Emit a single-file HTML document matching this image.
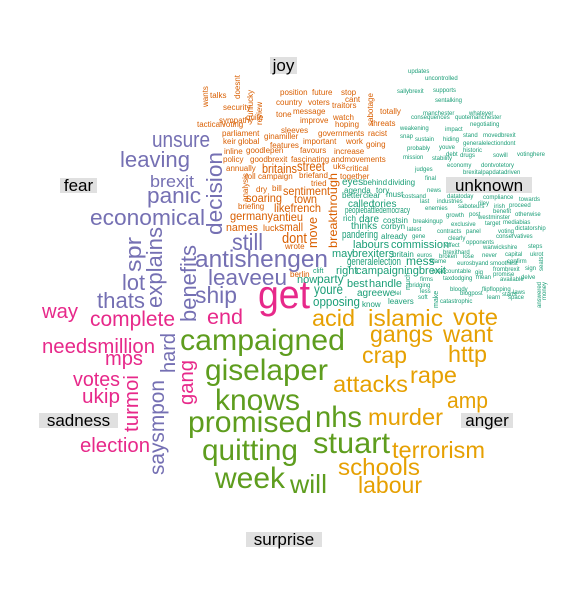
<!DOCTYPE html>
<html><head><meta charset="utf-8"><style>
html,body{margin:0;padding:0;background:#fff;}
svg{display:block;font-family:"Liberation Sans",Arial,sans-serif;}
</style></head><body>
<svg id="cloud" width="568" height="606" viewBox="0 0 568 606" xmlns="http://www.w3.org/2000/svg">
<g id="labels">
<rect x="270" y="57" width="27" height="17" fill="#e0e0e0"/><text x="283.5" y="71" font-size="17" text-anchor="middle">joy</text>
<rect x="60" y="178" width="37" height="15" fill="#e0e0e0"/><text x="78.5" y="191" font-size="17" text-anchor="middle">fear</text>
<rect x="446" y="177" width="86" height="16" fill="#e0e0e0"/><text x="489" y="191" font-size="17" text-anchor="middle">unknown</text>
<rect x="39" y="413" width="79" height="15" fill="#e0e0e0"/><text x="78.5" y="426" font-size="17" text-anchor="middle">sadness</text>
<rect x="461" y="413" width="52" height="15" fill="#e0e0e0"/><text x="487" y="426" font-size="17" text-anchor="middle">anger</text>
<rect x="246" y="532" width="76" height="15" fill="#e0e0e0"/><text x="284" y="545" font-size="17" text-anchor="middle">surprise</text>
</g>
<g id="words"></g>
</svg>
<script>
const J="#d95f02",F="#7570b3",U="#1b9e77",S="#e7298a",A="#e6a002",P="#5e9d1e";
// [word, x, y, fontSize, colour, rotated, width]
const words=[
["get",258,308,40,S,0,52],["campaigned",180,350,30,P,0,165],["gisela",205,380,30,P,0,78],["per",283,380,30,P,0,45],
["knows",215,410,30,P,0,85],["promised",188,432,30,P,0,124],["nhs",315,427,30,P,0,47],["stuart",313,453,30,P,0,77],
["quitting",202,460,30,P,0,96],["week",215,488,30,P,0,70],["will",290,493,26,P,0,37],
["unsure",152,147,22,F,0,58],["leaving",120,167,22,F,0,70],["brexit",150,187,17,F,0,44],["panic",147,203,22,F,0,54],
["economical",90,225,22,F,0,115],["lot",122,290,22,F,0,23],["thats",97,308,22,F,0,48],["still",232,250,23,F,0,31],
["antishengen",195,267,24,F,0,133],["leaveeu",208,285,22,F,0,79],["ship",195,303,23,F,0,42],
["decision",222,235,22,F,1,83],["spr",141,272,22,F,1,35],["explains",162,308,22,F,1,81],["benefits",196,322,22,F,1,77],
["hard",175,373,20,F,1,40],["gang",193,405,20,S,1,45],["saysmpon",164,475,21,F,1,95],
["way",42,318,20,S,0,36],["complete",90,326,21,S,0,85],["needsmillion",42,353,20,S,0,113],["mps",105,365,20,S,0,38],
["votes",73,386,20,S,0,47],["ukip",82,403,20,S,0,38],["election",80,452,20,S,0,70],["end",207,324,21,S,0,36],["turmoi",138,432,20,S,1,57],
["acid",312,326,23,A,0,43],["islamic",368,326,23,A,0,75],["vote",453,325,23,A,0,45],["gangs",370,342,23,A,0,63],
["want",443,342,23,A,0,50],["crap",362,363,23,A,0,45],["http",448,362,23,A,0,39],["rape",410,383,23,A,0,47],
["attacks",333,392,23,A,0,75],["amp",447,408,22,A,0,41],["murder",368,425,23,A,0,75],["terrorism",392,458,23,A,0,93],
["schools",338,475,23,A,0,82],["labour",358,493,23,A,0,64],
["talks",210,98,8,J],["security",223,110,8,J],["sympathy",219,123,8,J],["tacticalvoting",197,127,8,J],["parliament",222,136,8,J],
["keir",223,144,8,J],["global",238,144,8,J],["inline",224,154,8,J],["policy",223,162,8,J],["annually",226,171,8,J],
["position",280,95,8,J],["future",312,95,8,J],["stop",341,95,8,J],["cant",345,102,8,J],["country",276,105,8,J],
["voters",308,105,8,J],["traitors",332,108,8,J],["tone",276,117,8,J],["message",293,114,8,J],["totally",380,114,8,J],
["quite",246,120,8,J],["improve",300,123,8,J],["watch",333,120,8,J],["hoping",335,127,8,J],["threats",371,126,8,J],
["sleeves",281,133,8,J],["governments",318,136,8,J],["racist",368,136,8,J],["ginamiller",264,139,8,J],["features",270,148,8,J],
["important",303,144,8,J],["work",346,144,8,J],["going",366,147,8,J],["goodlepen",246,153,8,J],["favours",300,153,8,J],
["increase",334,154,8,J],["goodbrexit",250,162,8,J],["fascinating",291,162,8,J],["andmovements",331,162,8,J],["uks",333,169,8,J],
["critical",346,171,8,J],["together",340,179,8,J],["britains",262,173,13,J,0,35],["street",297,171,14,J,0,28],["briefand",299,178,8,J],
["roll",245,179,8,J],["campaign",258,179,8,J],["dry",256,192,8,J],["bill",272,191,8,J],["tried",311,186,8,J],
["sentiment",283,195,12,J,0,47],["soaring",246,202,12,J,0,36],["town",294,203,12,J,0,23],["briefing",238,209,8,J],["likefrench",274,212,12,J,0,47],
["germany",230,220,12,J,0,43],["antieu",273,221,12,J,0,30],["names",226,231,11,J,0,32],["luck",263,231,9,J],["small",279,231,12,J,0,24],
["dont",282,243,15,J,0,25],["wrote",285,249,8,J],["berlin",290,277,8,J],["doesnt",240,99,8,J,1],["unlucky",253,117,8,J,1],
["review",262,125,8,J,1],["wants",208,107,8,J,1],["sabotage",373,126,8,J,1],["analysis",248,202,8,J,1],["move",317,248,13,J,1,31],["breakthrough",337,248,12,J,1,75],
["updates",408,73,6,U],["uncontrolled",425,80,6,U],["sallybrexit",397,93,6,U],["supports",433,92,6,U],["sentalking",435,102,6,U],
["manchester",423,115,6,U],["whatever",469,115,6,U],["consequences",411,119,6,U],["quotemanchester",455,119,6,U],
["negotiating",470,126,6,U],["weakening",400,130,6,U],["impact",445,131,6,U],["snap",400,138,6,U],["sustain",415,141,6,U],
["hiding",443,141,6,U],["stand",463,137,6,U],["movedbrexit",483,137,6,U],["youve",439,149,6,U],["generalelectiondont",463,145,6,U],
["probably",407,150,6,U],["historic",463,152,6,U],["debt",446,156,6,U],["drugs",460,157,6,U],["sowill",493,157,6,U],
["votinghere",517,156,6,U],["mission",403,159,6,U],["stability",432,160,6,U],["economy",447,167,6,U],["dontvotetory",481,167,6,U],
["judges",415,171,6,U],["brexitalpapdatadriven",463,174,6,U],["final",425,180,6,U],["news",427,192,6,U],["datatoday",447,198,6,U],
["compliance",483,199,6,U],["towards",519,201,6,U],["costsand",402,198,6,U],["last",420,203,6,U],["industries",437,203,6,U],
["riley",478,205,6,U],["irish",494,208,6,U],["proceed",509,207,6,U],["enemies",425,210,6,U],["saboteurs",458,208,6,U],
["benefit",493,213,6,U],["growth",446,217,6,U],["post",469,216,6,U],["westminster",478,219,6,U],["otherwise",515,216,6,U],
["breakingup",413,223,6,U],["exclusive",451,226,6,U],["target",485,225,6,U],["mediabias",503,224,6,U],["latest",407,231,6,U],
["contracts",437,233,6,U],["panel",466,233,6,U],["voting",498,233,6,U],["dictatorship",515,230,6,U],["gene",412,238,6,U],
["clearly",448,240,6,U],["conservatives",496,238,6,U],["effect",445,247,6,U],["opponents",466,244,6,U],["warwickshire",483,249,6,U],
["steps",528,248,6,U],["never",482,257,6,U],["capital",505,256,6,U],["brexithard",443,254,6,U],["ukrot",530,256,6,U],
["euros",417,257,6,U],["broken",439,258,6,U],["lose",463,258,6,U],["confirm",507,263,6,U],["blame",430,263,6,U],
["eurosbyand",457,265,6,U],["smoothest",490,265,6,U],["sign",525,270,6,U],["unaccountable",432,273,6,U],["gig",475,274,6,U],
["frombrexit",493,271,6,U],["promise",493,276,6,U],["firms",420,281,6,U],["taxdodging",443,280,6,U],["mean",476,279,6,U],
["delve",521,279,6,U],["available",500,281,6,U],["bridging",409,287,6,U],["bloody",450,291,6,U],["flipflopping",482,291,6,U],
["laws",513,294,6,U],["less",420,293,6,U],["blogpost",460,295,6,U],["starts",502,296,6,U],["soft",418,299,6,U],
["learn",487,299,6,U],["space",508,299,6,U],["catastrophic",440,303,6,U],
["much",410,290,7,U,1],["make",438,308,7,U,1],["lel",395,295,6,U],["answered",541,308,6,U,1],["money",546,300,6,U,1],["seats",543,271,6,U,1],
["eyes",342,185,10,U],["behind",363,185,8,U],["dividing",388,185,8,U],["agenda",344,193,8,U],["tory",376,193,8,U],["must",386,197,8,U],
["better",342,198,8,U],["clear",363,198,8,U],["called",348,207,10,U],["tories",372,207,10,U],["peoplebattledemocracy",345,213,9,U,0,65],
["rich",343,221,8,U],["dare",359,222,10,U],["costsin",383,223,8,U],["thinks",351,229,10,U],["corbyn",381,229,8,U],
["pandering",342,238,11,U,0,36],["already",381,239,8,U],["labours",353,248,11,U],["commission",391,248,11,U],["may",332,257,11,U],
["brexiters",352,257,11,U],["britain",392,257,8,U],["mess",406,265,12,U],["generalelection",347,265,11,U,0,54],["right",336,274,11,U],["campaigningbrexit",356,274,11,U,0,90],
["clift",313,273,7,U],["now",297,283,11,U],["party",317,283,12,U],["best",347,287,11,U],["handle",369,287,11,U],["youre",314,294,14,U,0,29],
["agreewe",357,296,10,U],["opposing",313,306,13,U,0,47],["know",362,307,8,U],["leavers",388,304,8,U]
];
const g=document.getElementById('words');
const NS="http://www.w3.org/2000/svg";
words.forEach(w=>{
  const t=document.createElementNS(NS,'text');
  t.textContent=w[0];
  t.setAttribute('x',w[1]);t.setAttribute('y',w[2]);
  t.setAttribute('font-size',w[3]);t.setAttribute('fill',w[4]);
  if(w[5]) t.setAttribute('transform','rotate(-90 '+w[1]+' '+w[2]+')');
  if(w[6]){t.setAttribute('textLength',w[6]);t.setAttribute('lengthAdjust','spacingAndGlyphs');}
  
  
  g.appendChild(t);
});
</script>
</body></html>
